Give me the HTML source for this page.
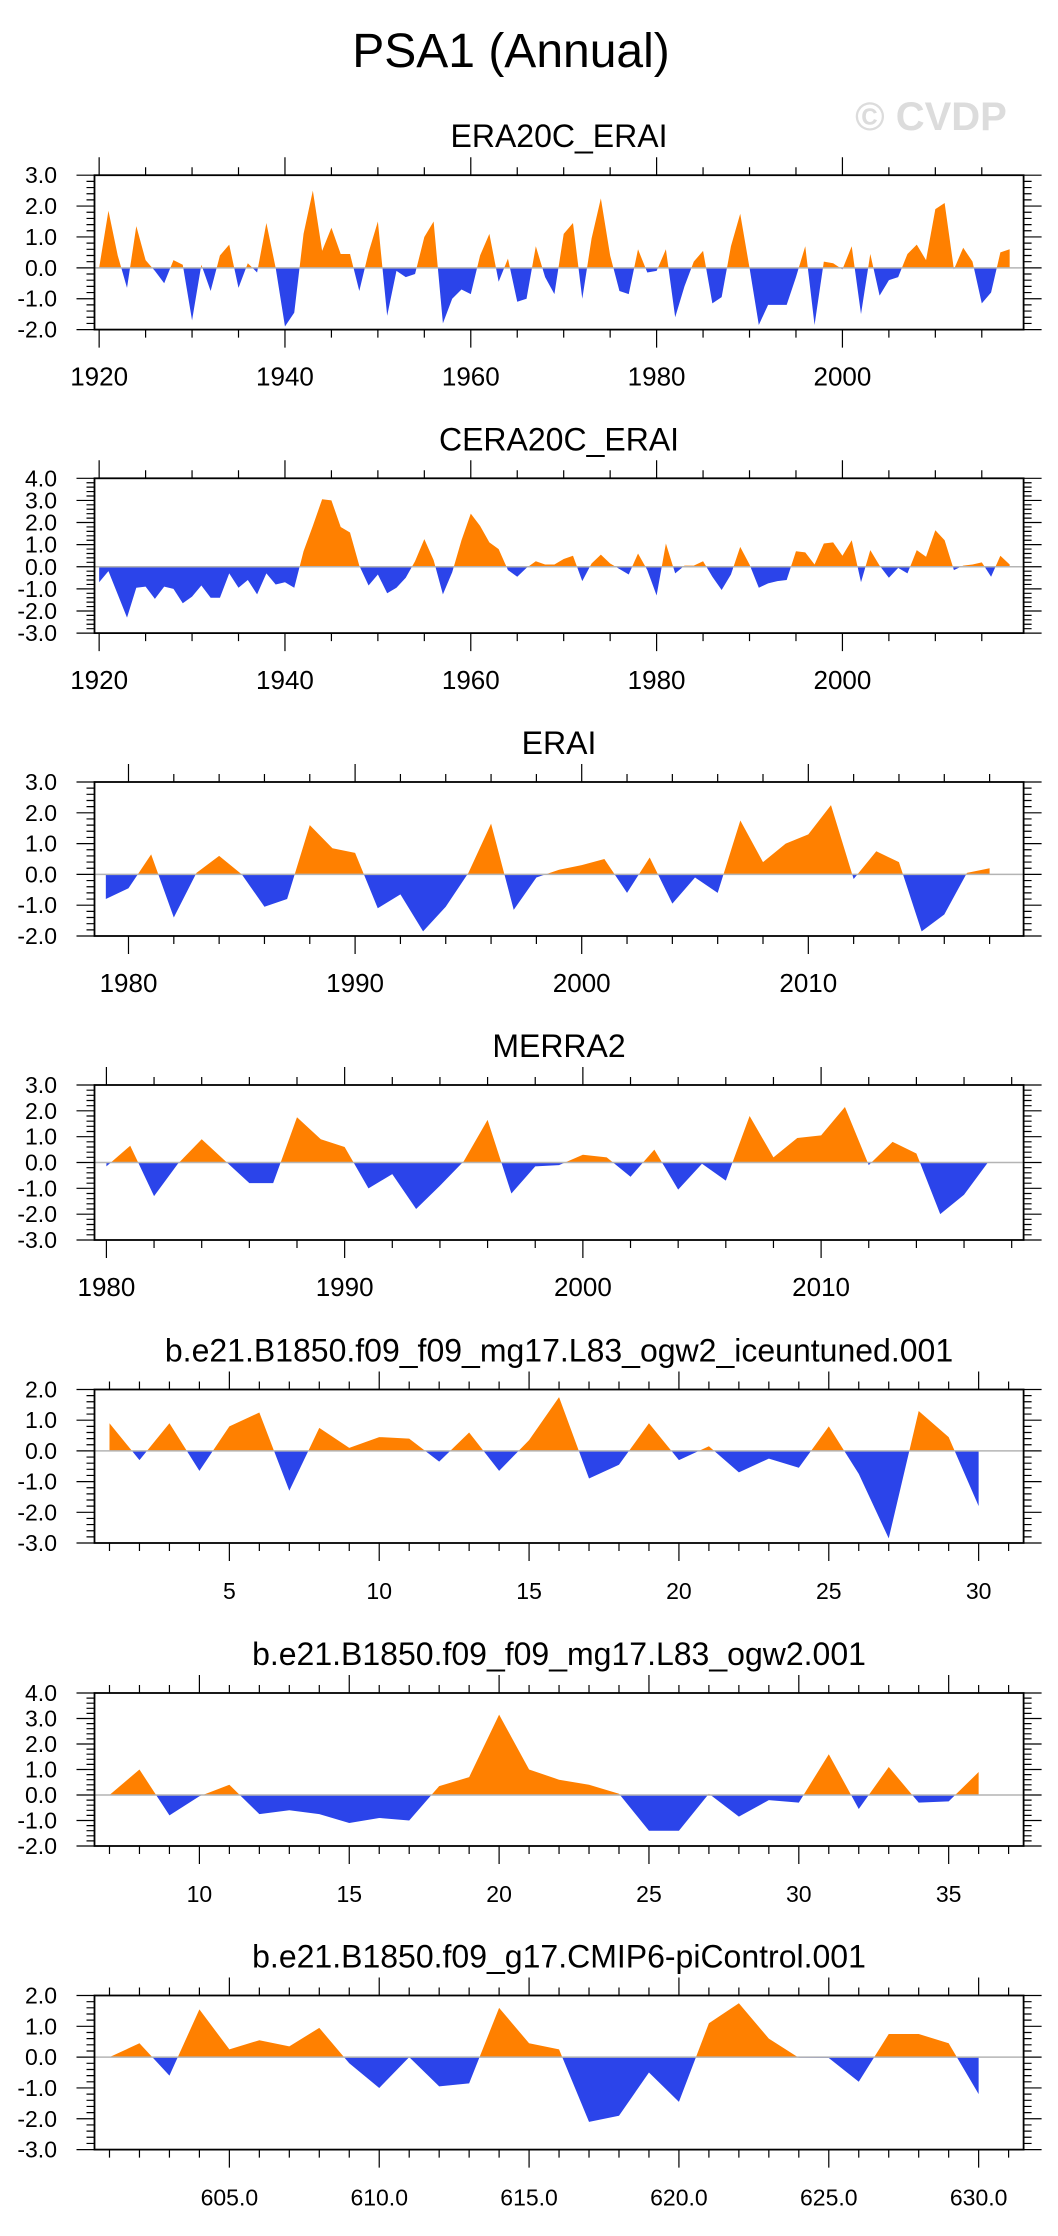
<!DOCTYPE html>
<html><head><meta charset="utf-8"><style>
html,body{margin:0;padding:0;background:#fff;}
svg{display:block;font-family:"Liberation Sans",Arial,sans-serif;}
</style></head><body>
<svg id="chart" width="1058" height="2236" viewBox="0 0 1058 2236" xmlns="http://www.w3.org/2000/svg">
<text x="511" y="67" font-size="48" text-anchor="middle" fill="#000">PSA1 (Annual)</text>
<text x="931" y="130" font-size="40" font-weight="bold" text-anchor="middle" fill="#dcdcdc">© CVDP</text>
</svg>
<script>
// ---- data ----
const era20cYears = [1920, 2018];
const era20cValues = [0.0,1.85,0.4,-0.65,1.35,0.25,-0.1,-0.5,0.25,0.1,-1.7,0.1,-0.75,0.4,0.75,-0.65,0.15,-0.15,1.45,0.0,-1.9,-1.45,1.1,2.5,0.55,1.3,0.45,0.45,-0.75,0.5,1.5,-1.55,-0.1,-0.3,-0.2,1.0,1.5,-1.8,-1.0,-0.7,-0.85,0.4,1.1,-0.45,0.3,-1.1,-1.0,0.7,-0.3,-0.85,1.1,1.45,-1.0,0.95,2.25,0.4,-0.75,-0.85,0.6,-0.15,-0.1,0.6,-1.6,-0.6,0.2,0.55,-1.15,-0.95,0.7,1.75,0.0,-1.85,-1.2,-1.2,-1.2,-0.3,0.7,-1.85,0.2,0.15,-0.05,0.7,-1.5,0.45,-0.9,-0.4,-0.3,0.45,0.75,0.25,1.9,2.1,-0.05,0.65,0.2,-1.15,-0.8,0.5,0.6];
const cera20cYears = [1920, 2018];
const cera20cValues = [-0.7,-0.2,-1.25,-2.3,-0.95,-0.9,-1.45,-0.9,-1.0,-1.65,-1.35,-0.85,-1.4,-1.4,-0.3,-0.95,-0.6,-1.25,-0.3,-0.8,-0.7,-0.95,0.7,1.85,3.05,3.0,1.8,1.55,0.05,-0.85,-0.35,-1.2,-0.95,-0.5,0.25,1.25,0.3,-1.25,-0.25,1.2,2.4,1.85,1.1,0.8,-0.15,-0.45,-0.05,0.25,0.1,0.1,0.35,0.5,-0.65,0.15,0.55,0.15,-0.1,-0.35,0.6,-0.15,-1.3,1.05,-0.3,0.05,0.05,0.25,-0.45,-1.05,-0.35,0.9,0.1,-0.95,-0.75,-0.65,-0.6,0.7,0.65,0.1,1.05,1.1,0.5,1.2,-0.7,0.75,0.05,-0.5,-0.05,-0.3,0.75,0.45,1.65,1.2,-0.15,0.05,0.1,0.2,-0.45,0.5,0.1];
const eraiYears = [1979, 2018];
const eraiValues = [-0.8,-0.45,0.65,-1.4,0.05,0.6,0.0,-1.05,-0.8,1.6,0.85,0.7,-1.1,-0.65,-1.85,-1.05,0.05,1.65,-1.15,-0.1,0.15,0.3,0.5,-0.6,0.55,-0.95,-0.1,-0.6,1.75,0.4,1.0,1.3,2.25,-0.15,0.75,0.4,-1.85,-1.3,0.05,0.2];
const merra2Years = [1980, 2017];
const merra2Values = [-0.15,0.65,-1.3,-0.05,0.9,0.05,-0.8,-0.8,1.75,0.9,0.6,-1.0,-0.45,-1.8,-0.9,0.05,1.65,-1.2,-0.15,-0.1,0.3,0.2,-0.55,0.5,-1.05,-0.05,-0.7,1.8,0.2,0.95,1.05,2.15,-0.1,0.8,0.35,-2.0,-1.25,0.0];
const iceuntunedYears = [1, 30];
const iceuntunedValues = [0.9,-0.3,0.9,-0.65,0.8,1.25,-1.3,0.75,0.1,0.45,0.4,-0.35,0.6,-0.65,0.35,1.75,-0.9,-0.45,0.9,-0.3,0.15,-0.7,-0.25,-0.55,0.8,-0.75,-2.85,1.3,0.45,-1.8];
const ogw2Years = [7, 36];
const ogw2Values = [0.0,1.0,-0.8,-0.05,0.4,-0.75,-0.6,-0.75,-1.1,-0.9,-1.0,0.35,0.7,3.15,1.0,0.6,0.4,0.05,-1.4,-1.4,0.05,-0.85,-0.2,-0.3,1.6,-0.55,1.1,-0.3,-0.25,0.9];
const picontrolYears = [601, 630];
const picontrolValues = [0.0,0.45,-0.6,1.55,0.25,0.55,0.35,0.95,-0.2,-1.0,0.0,-0.95,-0.85,1.6,0.45,0.25,-2.1,-1.9,-0.5,-1.45,1.1,1.75,0.6,-0.02,-0.03,-0.8,0.75,0.75,0.45,-1.2];

const yTicks1 = [-2,-1,0,1,2,3];
const yTicks2 = [-3,-2,-1,0,1,2,3,4];
const yTicks3 = [-2,-1,0,1,2,3];
const yTicks4 = [-3,-2,-1,0,1,2,3];
const yTicks5 = [-3,-2,-1,0,1,2];
const yTicks6 = [-2,-1,0,1,2,3,4];
const yTicks7 = [-3,-2,-1,0,1,2];
const xLabels1 = [1920,1940,1960,1980,2000];
const xLabels3 = [1980,1990,2000,2010];
const xLabels5 = [5,10,15,20,25,30];
const xLabels6 = [10,15,20,25,30,35];
const xLabels7 = [605,610,615,620,625,630];

const NS="http://www.w3.org/2000/svg";
const svg=document.getElementById('chart');
function mk(tag,attrs,parent){const e=document.createElementNS(NS,tag);for(const k in attrs)e.setAttribute(k,attrs[k]);(parent||svg).appendChild(e);return e;}

const L=94.5,R=1023.6;
let clipId=0;
function panel(p){
  const g=mk('g',{});
  
  
  const xs=v=>L+(v-p.x0)/(p.x1-p.x0)*(R-L);
  const ys=v=>p.bot-(v-p.y0)/(p.y1-p.y0)*(p.bot-p.top);
  const t=mk('text',{x:559,y:p.top-28,'font-size':32,'text-anchor':'middle',fill:'#000'},g);
  t.textContent=p.title;
  
  
  const n=p.values.length;
  let d='M'+xs(p.years[0])+','+ys(0);
  for(let i=0;i<n;i++)d+=' L'+xs(p.years[0]+i).toFixed(2)+','+ys(p.values[i]).toFixed(2);
  d+=' L'+xs(p.years[0]+n-1)+','+ys(0)+' Z';
  const z=ys(0);
  const c1='cp'+(clipId++),c2='cp'+(clipId++);
  const defs=mk('defs',{},g);
  const cp1=mk('clipPath',{id:c1},defs);mk('rect',{x:L,y:p.top,width:R-L,height:z-p.top},cp1);
  const cp2=mk('clipPath',{id:c2},defs);mk('rect',{x:L,y:z,width:R-L,height:p.bot-z},cp2);
  const pos=mk('path',{d:d,fill:'#ff8000','clip-path':'url(#'+c1+')'},g);
  
  
  const neg=mk('path',{d:d,fill:'#2b44ea','clip-path':'url(#'+c2+')'},g);
  
  
  const zl=mk('line',{x1:L,x2:R,y1:z,y2:z,stroke:'#b4b4b4','stroke-width':1.5},g);
  
  
  const fr=mk('rect',{x:L,y:p.top,width:R-L,height:p.bot-p.top,fill:'none',stroke:'#000','stroke-width':1.8},g);
  
  
  let td='';
  for(let v=p.y0;v<=p.y1+1e-6;v+=0.2){const y=ys(v);const maj=Math.abs(v-Math.round(v))<1e-6;const len=maj?18:8;
    td+='M'+(L-len)+','+y+'H'+L+'M'+R+','+y+'H'+(R+len);}
  for(let v=Math.ceil(p.x0/p.minor)*p.minor;v<=p.x1;v+=p.minor){const x=xs(v);const maj=Math.abs(v/p.major-Math.round(v/p.major))<1e-6;const len=maj?18:8;
    td+='M'+x+','+(p.top-len)+'V'+p.top+'M'+x+','+p.bot+'V'+(p.bot+len);}
  mk('path',{d:td,stroke:'#000','stroke-width':1.2,fill:'none'},g);
  p.yTicks.forEach(v=>{const tl=mk('text',{x:57,y:ys(v)+8,'font-size':23,'text-anchor':'end',fill:'#000'},g);tl.textContent=v.toFixed(1);
    
    });
  p.xLabels.forEach(v=>{const tl=mk('text',{x:xs(v),y:p.bot+56,'font-size':p.xfs,'text-anchor':'middle',fill:'#000'},g);tl.textContent=p.fmt?v.toFixed(1):String(v);
    
    });
}
panel({name:'era20c-erai-panel',title:'ERA20C_ERAI',years:era20cYears,values:era20cValues,x0:1919.5,x1:2019.5,y0:-2,y1:3,top:175.2,bot:329.6,yTicks:yTicks1,xLabels:xLabels1,minor:5,major:20,xfs:26});
panel({name:'cera20c-erai-panel',title:'CERA20C_ERAI',years:cera20cYears,values:cera20cValues,x0:1919.5,x1:2019.5,y0:-3,y1:4,top:478.3,bot:633.1,yTicks:yTicks2,xLabels:xLabels1,minor:5,major:20,xfs:26});
panel({name:'erai-panel',title:'ERAI',years:eraiYears,values:eraiValues,x0:1978.5,x1:2019.5,y0:-2,y1:3,top:782,bot:936,yTicks:yTicks3,xLabels:xLabels3,minor:2,major:10,xfs:26});
panel({name:'merra2-panel',title:'MERRA2',years:merra2Years,values:merra2Values,x0:1979.5,x1:2018.5,y0:-3,y1:3,top:1085,bot:1240,yTicks:yTicks4,xLabels:xLabels3,minor:2,major:10,xfs:26});
panel({name:'iceuntuned-panel',title:'b.e21.B1850.f09_f09_mg17.L83_ogw2_iceuntuned.001',years:iceuntunedYears,values:iceuntunedValues,x0:0.5,x1:31.5,y0:-3,y1:2,top:1389.5,bot:1543,yTicks:yTicks5,xLabels:xLabels5,minor:1,major:5,xfs:23});
panel({name:'ogw2-panel',title:'b.e21.B1850.f09_f09_mg17.L83_ogw2.001',years:ogw2Years,values:ogw2Values,x0:6.5,x1:37.5,y0:-2,y1:4,top:1693,bot:1846,yTicks:yTicks6,xLabels:xLabels6,minor:1,major:5,xfs:23});
panel({name:'picontrol-panel',title:'b.e21.B1850.f09_g17.CMIP6-piControl.001',years:picontrolYears,values:picontrolValues,x0:600.5,x1:631.5,y0:-3,y1:2,top:1995.5,bot:2149.6,yTicks:yTicks7,xLabels:xLabels7,minor:1,major:5,xfs:23,fmt:true});
</script>
</body></html>
